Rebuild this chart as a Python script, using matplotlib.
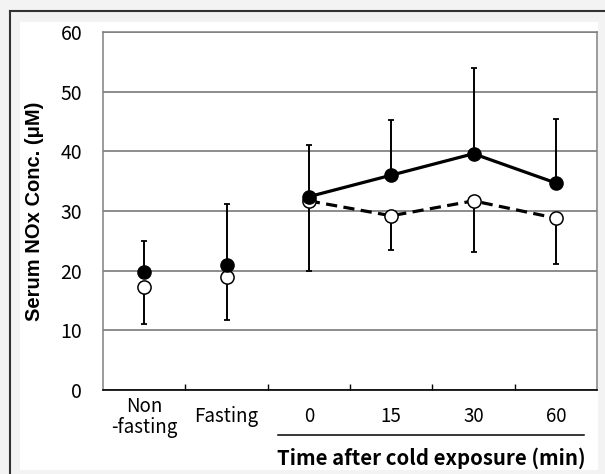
import matplotlib.pyplot as plt
from matplotlib.patches import Rectangle
from matplotlib.lines import Line2D

categories = ["Non\n-fasting", "Fasting", "0", "15", "30", "60"]
filled_mean = [19.7, 21.0, 32.4, 36.0, 39.6, 34.7]
filled_upper_err = [5.2, 10.1, 8.7, 9.2, 14.3, 10.8]
open_mean = [17.2, 19.0, 31.7, 29.2, 31.7, 28.8]
open_lower_err = [6.2, 7.3, 11.7, 5.8, 8.5, 7.6]
y_ticks = [0, 10, 20, 30, 40, 50, 60]

W, H = 605, 474
fig = plt.figure(figsize=(W / 100, H / 100), dpi=100, facecolor="#f3f3f3")

# scanned-page look: white panel, dark edge at top and left
fig.patches.append(Rectangle((20 / W, 1 - 470 / H), 578 / W, 448 / H,
                             transform=fig.transFigure, facecolor="white",
                             edgecolor="none", zorder=-5))
fig.lines.append(Line2D([10 / W, 1], [1 - 11 / H, 1 - 11 / H],
                        transform=fig.transFigure, color="#333", lw=1.5, zorder=-4))
fig.lines.append(Line2D([10 / W, 10 / W], [0, 1 - 11 / H],
                        transform=fig.transFigure, color="#333", lw=1.5, zorder=-4))

ax = fig.add_axes([103 / W, 1 - 390 / H, 494 / W, 358 / H])
ax.set_facecolor("none")

x = list(range(len(categories)))

# error bars: filled group upward, open group downward
ax.errorbar(x, filled_mean, yerr=[[0] * 6, filled_upper_err], fmt="none",
            ecolor="black", elinewidth=1.4, capsize=2.5, capthick=1.3, zorder=2)
ax.errorbar(x, open_mean, yerr=[open_lower_err, [0] * 6], fmt="none",
            ecolor="black", elinewidth=1.4, capsize=2.5, capthick=1.3, zorder=2)

ax.plot(x[2:], open_mean[2:], color="black", lw=2.3, ls=(0, (3.5, 2)), zorder=3)
ax.plot(x, open_mean, ls="none", marker="o", ms=9.5, mfc="white",
        mec="black", mew=1.1, zorder=4)
ax.plot(x[2:], filled_mean[2:], color="black", lw=2.3, zorder=5)
ax.plot(x, filled_mean, ls="none", marker="o", ms=9.5, mfc="black",
        mec="black", zorder=6)

ax.set_xlim(-0.5, len(categories) - 0.5)
ax.set_ylim(0, 60)
ax.set_yticks(y_ticks)
ax.tick_params(axis="y", length=0, labelsize=14, pad=15)
for lab in ax.get_yticklabels():
    lab.set_fontfamily("Noto Sans CJK JP")
ax.yaxis.grid(True, color="#6e6e6e", lw=1.1)
ax.set_axisbelow(True)

ax.set_xticks([i + 0.5 for i in x[:-1]])
ax.set_xticklabels([])
ax.tick_params(axis="x", direction="in", length=4, width=1, color="black")

for side in ["left", "top", "right"]:
    ax.spines[side].set_color("#808080")
    ax.spines[side].set_linewidth(1.1)
ax.spines["bottom"].set_color("black")
ax.spines["bottom"].set_linewidth(1.2)

trans = ax.get_xaxis_transform()
for xi, lab in zip(x, categories):
    ax.text(xi, -0.075, lab, transform=trans, ha="center", va="center",
            fontsize=13.5, family="Noto Sans CJK JP", linespacing=1.0)

ax.add_line(Line2D([1.63, 5.34], [-0.125, -0.125], transform=trans,
                   color="black", lw=1.1, clip_on=False))
ax.text(5.36, -0.19, "Time after cold exposure (min)", transform=trans,
        ha="right", va="center", fontsize=14.7, fontweight="bold",
        family="Noto Sans CJK JP")

ax.set_ylabel("Serum NOx Conc. (\u03bcM)", fontsize=14.5, fontweight="bold",
              family="Liberation Sans", labelpad=12)

fig.savefig("out.png", dpi=100, facecolor=fig.get_facecolor())
